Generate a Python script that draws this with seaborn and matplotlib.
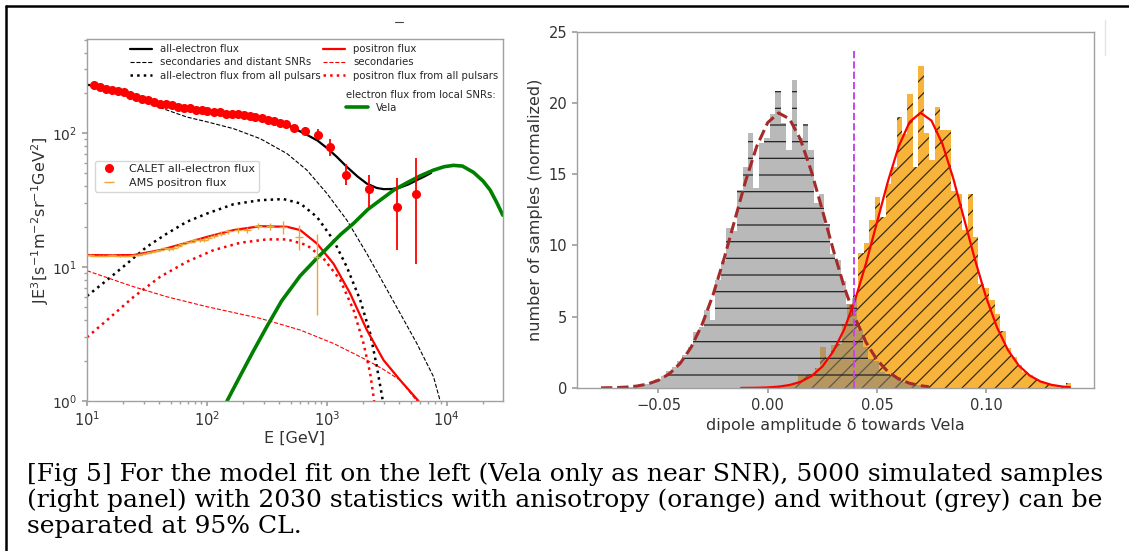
import numpy as np
import pandas as pd
import matplotlib
matplotlib.use("Agg")
import matplotlib.pyplot as plt
import seaborn as sns
from matplotlib.lines import Line2D

# ---------------- left panel data ----------------
tot_E = [10, 11.4, 14.3, 18.0, 22.7, 28.6, 35.9, 45.3, 57.0, 71.7, 90.3, 114, 143, 180, 227, 286,
         359, 452, 528, 599, 700, 836, 1010, 1200, 1468, 1800, 2154, 2600, 2967, 3500, 4084, 4800,
         5623, 6500, 7400]
tot_Y = [230, 226, 214, 203, 192, 179, 169, 161, 155, 150, 146, 142, 139, 135, 131, 127,
         122, 116, 110, 103, 96, 88, 77, 67, 56, 47.5, 42, 39, 38.2, 38.3, 39.3, 41.5,
         44.6, 47.5, 50.5]

sec_E = [10, 15, 20, 28, 31.6, 40.8, 55, 68, 100, 167, 278, 464, 681, 1000, 1468, 2154, 2967,
         4084, 5623, 7743, 8800]
sec_Y = [230, 212, 199, 180, 173, 155, 141, 132, 121.6, 108, 91, 70.5, 53, 35.5, 22.4, 12.6, 7.55,
         4.51, 2.69, 1.52, 1.0]

puls_E = [10, 14.7, 21.5, 31.6, 46.4, 68, 100, 167, 278, 435, 599, 826, 1136, 1468, 1896, 2297,
          2610, 2929]
puls_Y = [6.08, 8.0, 10.6, 14.2, 17.8, 21.8, 25.1, 29.5, 31.6, 32.2, 29.9, 23.7, 15.9, 10.0, 5.67,
          3.2, 1.8, 1.0]

pos_E = [10, 15, 24.5, 40.8, 68, 100, 167, 278, 464, 599, 826, 1136, 1563, 2154, 2967, 4084, 5808]
pos_Y = [12.3, 12.25, 12.3, 13.4, 15.2, 16.8, 18.9, 20.2, 20.0, 18.9, 15.0, 10.6, 6.36, 3.39, 2.02,
         1.43, 1.0]

possec_E = [10, 24.5, 46.4, 100, 278, 599, 1136, 2154, 2967, 4084, 5623]
possec_Y = [9.39, 7.13, 6.0, 5.06, 4.14, 3.39, 2.69, 2.02, 1.72, 1.43, 1.0]

pospuls_E = [10, 14.7, 24.5, 40.8, 68, 114, 190, 316, 464, 681, 937, 1292, 1668, 2021, 2297, 2479]
pospuls_Y = [2.99, 4.02, 6.0, 8.47, 10.96, 13.4, 15.2, 16.1, 16.1, 14.6, 11.6, 8.0, 4.78, 2.69,
             1.61, 1.0]

vela_E = [147, 190, 240, 316, 420, 599, 800, 1000, 1300, 1668, 2200, 2783, 3600, 4642, 6000, 7743,
          9500, 11365, 13500, 16681, 20000, 22974, 26000, 29300]
vela_Y = [1.0, 1.55, 2.3, 3.6, 5.6, 8.6, 11.3, 13.8, 17.5, 21.2, 27, 31.6, 37.5, 42.6, 48, 53,
          56.2, 57.5, 56.8, 51, 44, 37.6, 30.5, 24.4]

calet_E = [11.4, 12.8, 14.3, 16.1, 18.0, 20.2, 22.7, 25.4, 28.6, 32.0, 35.9, 40.3, 45.3, 50.8, 57.0,
           63.9, 71.7, 80.5, 90.3, 101, 114, 128, 143, 161, 180, 202, 227, 254, 286, 320, 359, 403,
           452, 528, 660, 836, 1053, 1449, 2225, 3831, 5551]
calet_Y = [228, 222, 215, 209, 207, 203, 194, 187, 181, 176, 171, 166, 164, 161, 157, 155, 153, 150,
           148, 147, 144, 143, 140, 140, 139, 136, 134, 132, 129, 126, 124, 119, 117, 110, 104, 97,
           79, 49, 38, 28, 35]
calet_lo = [4, 4, 4, 4, 4, 4, 4, 3, 3, 3, 3, 3, 3, 3, 3, 3, 3, 3, 3, 3, 3, 3, 3, 3, 3, 3, 3, 3, 3,
            3, 3, 3, 3, 5, 7, 8, 11, 8, 10, 14.5, 24.5]
calet_hi = [4, 4, 4, 4, 4, 4, 4, 3, 3, 3, 3, 3, 3, 3, 3, 3, 3, 3, 3, 3, 3, 3, 3, 3, 3, 3, 3, 3, 3,
            3, 3, 3, 3, 5, 7, 11, 12, 10, 11, 18, 30]

ams_E = [10.5, 11.5, 12.5, 13.6, 14.8, 16.1, 17.5, 19.0, 20.7, 22.5, 24.5, 26.7, 29.0, 31.6, 34.4,
         37.4, 40.7, 44.3, 48.2, 52.5, 57.1, 62.2, 67.7, 73.7, 80.2, 87.3, 95.0, 103, 115, 130, 150,
         180, 215, 264, 333, 430, 587, 826]
ams_Y = [12.3, 12.2, 12.2, 12.2, 12.2, 12.3, 12.2, 12.1, 12.1, 12.2, 12.3, 12.4, 12.6, 12.8, 13.0,
         13.3, 13.4, 13.9, 13.6, 13.8, 14.3, 14.9, 15.3, 15.5, 15.9, 16.0, 16.0, 16.4, 17.0, 17.8,
         18.6, 19.0, 18.9, 20.3, 20.1, 19.8, 16.7, 11.9]
ams_lo = [0.2, 0.2, 0.2, 0.2, 0.2, 0.2, 0.2, 0.2, 0.2, 0.2, 0.2, 0.2, 0.2, 0.2, 0.25, 0.25, 0.3, 0.3,
          0.3, 0.3, 0.35, 0.35, 0.4, 0.4, 0.45, 0.5, 0.5, 0.55, 0.6, 0.7, 0.8, 0.9, 1.0, 1.1, 1.3,
          2.2, 3.3, 7.5]
ams_hi = [0.2, 0.2, 0.2, 0.2, 0.2, 0.2, 0.2, 0.2, 0.2, 0.2, 0.2, 0.2, 0.2, 0.2, 0.25, 0.25, 0.3, 0.3,
          0.3, 0.3, 0.35, 0.35, 0.4, 0.4, 0.45, 0.5, 0.5, 0.55, 0.6, 0.7, 0.8, 0.9, 1.0, 1.1, 1.3,
          2.2, 3.9, 5.9]

# ---------------- right panel data ----------------
grey_start, grey_width = -0.0765, 0.0025
grey_heights = [0.02, 0.05, 0.0, 0.15, 0.05, 0.1, 0.2, 0.15, 0.3, 0.45, 0.6, 0.85, 1.2, 1.5, 1.9,
                2.3, 2.9, 3.9, 4.3, 5.5, 4.8, 7.6, 8.9, 11.2, 11.0, 13.9, 15.5, 17.9, 14.0, 17.2,
                17.5, 19.2, 20.8, 18.6, 16.7, 21.6, 17.5, 18.5, 16.7, 13.0, 13.6, 11.5, 9.4, 9.0,
                7.5, 5.9, 6.3, 4.1, 2.9, 2.0, 1.9, 1.1, 1.0, 0.9, 0.8, 0.4, 0.3, 0.3, 0.2, 0.15]
orange_start, orange_width = -0.0135, 0.0025
orange_heights = [0.0, 0.0, 0.02, 0.03, 0.05, 0.05, 0.08, 0.1, 0.15, 0.25, 0.35, 0.9, 0.9, 1.0, 1.4,
                  2.9, 2.0, 3.0, 3.1, 4.5, 5.9, 6.5, 9.5, 10.2, 11.8, 13.4, 12.0, 14.3, 15.5, 19.0,
                  17.8, 20.6, 15.5, 22.6, 17.85, 16.0, 19.7, 18.1, 18.1, 13.8, 13.6, 11.1, 13.6,
                  10.6, 7.3, 7.0, 6.2, 5.2, 4.0, 2.8, 2.2, 1.6, 1.1, 0.9, 0.6, 0.5, 0.3, 0.2, 0.15,
                  0.1, 0.35]

gfit_x = [-0.0763, -0.07, -0.065, -0.06, -0.055, -0.05, -0.045, -0.04, -0.035, -0.03, -0.025,
          -0.02, -0.015, -0.01, -0.005, 0.0, 0.005, 0.01, 0.015, 0.02, 0.025, 0.03, 0.035, 0.04,
          0.045, 0.05, 0.055, 0.06, 0.065, 0.07, 0.0738]
gfit_y = [0.008, 0.026, 0.061, 0.134, 0.277, 0.542, 1.00, 1.74, 2.87, 4.46, 6.54, 9.05, 11.82,
          14.57, 16.95, 18.61, 19.29, 18.87, 17.43, 15.19, 12.49, 9.70, 7.11, 4.92, 3.21, 1.98,
          1.15, 0.63, 0.33, 0.16, 0.089]
ofit_x = [-0.0122, -0.005, 0.0, 0.005, 0.01, 0.015, 0.02, 0.025, 0.03, 0.035, 0.04, 0.045, 0.05,
          0.055, 0.06, 0.065, 0.07, 0.075, 0.08, 0.085, 0.09, 0.095, 0.1, 0.105, 0.11, 0.115, 0.12,
          0.125, 0.13, 0.135, 0.1384]
ofit_y = [0.004, 0.016, 0.041, 0.095, 0.21, 0.43, 0.83, 1.50, 2.56, 4.10, 6.17, 8.73, 11.59, 14.46,
          16.95, 18.66, 19.30, 18.75, 17.12, 14.68, 11.82, 8.95, 6.36, 4.25, 2.66, 1.57, 0.87,
          0.45, 0.22, 0.10, 0.058]
cut_x = 0.0395
cut_top = 23.7

caption = ["[Fig 5] For the model fit on the left (Vela only as near SNR), 5000 simulated samples",
           "(right panel) with 2030 statistics with anisotropy (orange) and without (grey) can be",
           "separated at 95% CL."]

# ---------------- style ----------------
sns.set_theme(style="ticks")
plt.rcParams["font.family"] = ["DejaVu Sans"]
plt.rcParams.update({
    "axes.edgecolor": "#a0a0a0", "axes.linewidth": 1.0,
    "xtick.color": "#a0a0a0", "ytick.color": "#a0a0a0",
    "xtick.labelcolor": "#333333", "ytick.labelcolor": "#333333",
    "axes.labelcolor": "#333333",
    "xtick.labelsize": 10.5, "ytick.labelsize": 10.5, "axes.labelsize": 11.5,
    "xtick.major.size": 3.5, "ytick.major.size": 3.5,
    "xtick.minor.size": 2.0, "ytick.minor.size": 2.0,
    "hatch.color": "black", "hatch.linewidth": 0.9,
})

fig = plt.figure(figsize=(11.29, 5.51), dpi=100)
axL = fig.add_axes([87 / 1129, 1 - 401 / 551, 416 / 1129, 362 / 551])
axR = fig.add_axes([577 / 1129, 1 - 388 / 551, 517 / 1129, 356.5 / 551])

# ---------------- left panel ----------------
axL.set_xscale("log")
axL.set_yscale("log")
kw = dict(ax=axL, legend=False, sort=False, estimator=None)
sns.lineplot(x=sec_E, y=sec_Y, color="black", lw=0.8, linestyle="--", **kw)
sns.lineplot(x=puls_E, y=puls_Y, color="black", lw=1.8, linestyle=":", **kw)
sns.lineplot(x=possec_E, y=possec_Y, color="red", lw=0.8, linestyle="--", **kw)
sns.lineplot(x=pospuls_E, y=pospuls_Y, color="red", lw=1.8, linestyle=":", **kw)
sns.lineplot(x=tot_E, y=tot_Y, color="black", lw=1.6, **kw)
sns.lineplot(x=pos_E, y=pos_Y, color="red", lw=1.6, **kw)
sns.lineplot(x=vela_E, y=vela_Y, color="green", lw=2.6, **kw)
axL.errorbar(ams_E, ams_Y, yerr=[ams_lo, ams_hi], fmt="_", color="#eba53a", ms=6, mew=1.0,
             elinewidth=1.0, capsize=0, zorder=4)
axL.errorbar(calet_E, calet_Y, yerr=[calet_lo, calet_hi], fmt="o", color="red", ms=5.5,
             elinewidth=1.3, capsize=0, zorder=5)
axL.set_xlim(10, 2.94e4)
axL.set_ylim(1, 505)
axL.set_xlabel("E [GeV]", labelpad=1)
axL.set_ylabel(r"JE$^3$[s$^{-1}$m$^{-2}$sr$^{-1}$GeV$^2$]", labelpad=1)
axL.tick_params(which="both", direction="out")
axL.tick_params(axis="y", labelsize=10)

lfs = 7.3
h1 = [Line2D([], [], color="black", lw=1.6), Line2D([], [], color="black", lw=0.8, ls="--"),
      Line2D([], [], color="black", lw=1.8, ls=":")]
leg1 = axL.legend(h1, ["all-electron flux", "secondaries and distant SNRs",
                       "all-electron flux from all pulsars"],
                  loc="upper left", bbox_to_anchor=((130 - 87) / 416, 0.985), frameon=False,
                  fontsize=lfs, borderpad=0, borderaxespad=0, handlelength=2.2,
                  handletextpad=0.8, labelspacing=0.3)
axL.add_artist(leg1)
h2 = [Line2D([], [], color="red", lw=1.6), Line2D([], [], color="red", lw=0.8, ls="--"),
      Line2D([], [], color="red", lw=1.8, ls=":")]
leg2 = axL.legend(h2, ["positron flux", "secondaries", "positron flux from all pulsars"],
                  loc="upper left", bbox_to_anchor=((323 - 87) / 416, 0.985), frameon=False,
                  fontsize=lfs, borderpad=0, borderaxespad=0, handlelength=2.2,
                  handletextpad=0.8, labelspacing=0.3)
axL.add_artist(leg2)
leg3 = axL.legend([Line2D([], [], color="green", lw=2.6)], ["Vela"],
                  title="electron flux from local SNRs:", title_fontsize=lfs,
                  loc="upper left", bbox_to_anchor=((346 - 87) / 416, (401 - 90) / 362),
                  frameon=False, fontsize=lfs, borderpad=0, borderaxespad=0,
                  handlelength=2.2, handletextpad=0.8, labelspacing=0.3)
leg3._legend_box.align = "left"
axL.add_artist(leg3)
h4 = [Line2D([], [], color="red", marker="o", ls="none", ms=5.5),
      Line2D([], [], color="#eba53a", marker="_", ls="none", ms=7, mew=1.0)]
leg4 = axL.legend(h4, ["CALET all-electron flux", "AMS positron flux"], loc="upper left",
                  bbox_to_anchor=((95 - 87) / 416, (401 - 161) / 362), frameon=True,
                  fontsize=8, borderpad=0.3, borderaxespad=0, handlelength=2.0,
                  handletextpad=0.8, labelspacing=0.35, fancybox=True)
leg4.get_frame().set_edgecolor("#cccccc")

# ---------------- right panel ----------------
o_edges = [round(orange_start + orange_width * i, 5) for i in range(len(orange_heights) + 1)]
o_cent = [e + orange_width / 2 for e in o_edges[:-1]]
g_edges = [round(grey_start + grey_width * i, 5) for i in range(len(grey_heights) + 1)]
g_cent = [e + grey_width / 2 for e in g_edges[:-1]]
df_o = pd.DataFrame({"x": o_cent, "w": orange_heights})
df_g = pd.DataFrame({"x": g_cent, "w": grey_heights})

n0 = len(axR.patches)
sns.histplot(data=df_o, x="x", weights="w", bins=o_edges, ax=axR, color="#f8b43a",
             linewidth=0)
for p in axR.patches[n0:]:
    p.set_alpha(None)
    p.set_facecolor((0.973, 0.706, 0.227, 1.0))
    p.set_edgecolor("#3a2a10")
    p.set_linewidth(0)
    p.set_hatch("//")
n1 = len(axR.patches)
sns.histplot(data=df_g, x="x", weights="w", bins=g_edges, ax=axR, color="grey", linewidth=0)
for p in axR.patches[n1:]:
    p.set_alpha(None)
    p.set_facecolor((0.5, 0.5, 0.5, 0.55))
    p.set_edgecolor("#222222")
    p.set_linewidth(0)
    p.set_hatch("-")

sns.lineplot(x=gfit_x, y=gfit_y, ax=axR, color="#a52a2a", lw=2.2, linestyle="--", legend=False,
             sort=False, estimator=None)
sns.lineplot(x=ofit_x, y=ofit_y, ax=axR, color="red", lw=1.6, legend=False, sort=False,
             estimator=None)
axR.plot([cut_x, cut_x], [0, cut_top], color="#c844ee", lw=1.4, ls="--", zorder=6)
axR.set_xlim(-0.0873, 0.1494)
axR.set_ylim(0, 25)
axR.set_xticks([-0.05, 0.0, 0.05, 0.10])
axR.set_yticks([0, 5, 10, 15, 20, 25])
axR.set_xlabel("dipole amplitude δ towards Vela")
axR.set_ylabel("number of samples (normalized)")
axR.tick_params(direction="out")

# ---------------- caption & frame ----------------
for i, line in enumerate(caption):
    fig.text(27 / 1129, 1 - (481 + 26 * i) / 551, line, family="DejaVu Serif", fontsize=18,
             va="baseline", ha="left", color="black")
fig.add_artist(Line2D([6 / 1129, 1], [1 - 6 / 551, 1 - 6 / 551], transform=fig.transFigure,
                      color="black", lw=1.8))
fig.add_artist(Line2D([6 / 1129, 6 / 1129], [0, 1 - 6 / 551], transform=fig.transFigure,
                      color="black", lw=1.8))
fig.add_artist(Line2D([1105 / 1129, 1105 / 1129], [1 - 20 / 551, 1 - 55 / 551],
                      transform=fig.transFigure, color="#e4e4e4", lw=1))
fig.add_artist(Line2D([395 / 1129, 403 / 1129], [1 - 21.5 / 551, 1 - 21.5 / 551],
                      transform=fig.transFigure, color="#444444", lw=0.8))

fig.savefig("out.png", dpi=100)
